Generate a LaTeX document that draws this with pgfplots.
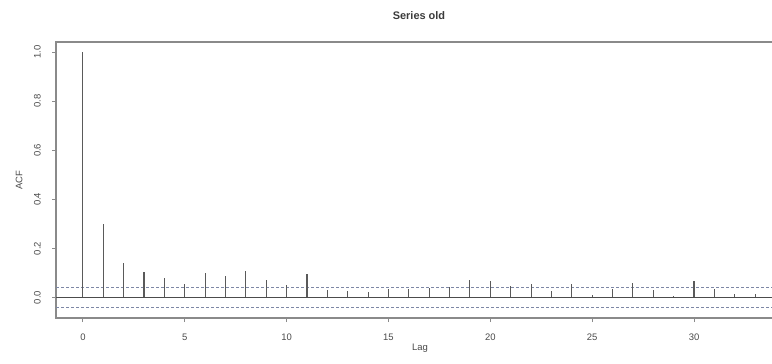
\documentclass[border=0pt]{standalone}
\usepackage{pgfplots}
\pgfplotsset{compat=1.18}
\usepackage{fontspec}
\setmainfont{Liberation Sans}
\definecolor{txt}{HTML}{4A4A4A}
\definecolor{box}{HTML}{8A8A8A}
\definecolor{spk}{HTML}{5A5A5A}
\definecolor{ci}{RGB}{125,135,165}
\begin{document}
\begin{tikzpicture}[x=1bp,y=1bp]
\clip (0,0) rectangle (772,363);
\begin{axis}[
  at={(56bp,45bp)}, anchor=south west,
  scale only axis, width=726bp, height=276bp,
  xmin=-1.32, xmax=34.32, ymin=-0.0836, ymax=1.0417,
  axis line style={box, line width=1.2pt},
  xtick={0,5,...,30}, ytick={0,0.2,...,1.0},
  yticklabel={\pgfmathprintnumber[fixed,fixed zerofill,precision=1]{\tick}},
  /pgf/number format/assume math mode=true,
  tick align=outside, major tick length=4bp,
  tick style={box, line width=0.8pt},
  xtick pos=bottom, ytick pos=left,
  every tick label/.append style={font=\fontsize{9.5}{10}\selectfont, text=txt},
  xticklabel style={inner sep=0pt, anchor=north, yshift=-12bp},
  yticklabel style={xshift=-11bp, rotate=90, anchor=south, inner sep=0pt},
  clip=false,
]
\addplot[ci, line width=0.9pt, dash pattern=on 3bp off 2bp] coordinates {(-1.32,0.042) (34.32,0.042)};
\addplot[ci, line width=0.9pt, dash pattern=on 3bp off 2bp] coordinates {(-1.32,-0.042) (34.32,-0.042)};
\addplot[spk!85!black, line width=0.9pt] coordinates {(-1.32,0) (34.32,0)};
\addplot[ycomb, spk, line width=1.1pt, mark=none] table {
x y
0 1.000
1 0.298
2 0.141
3 0.106
4 0.080
5 0.054
6 0.098
7 0.088
8 0.110
9 0.071
10 0.050
11 0.095
12 0.030
13 0.027
14 0.023
15 0.034
16 0.034
17 0.039
18 0.042
19 0.072
20 0.068
21 0.047
22 0.053
23 0.027
24 0.056
25 0.009
26 0.035
27 0.060
28 0.031
29 0.008
30 0.068
31 0.035
32 0.013
33 0.016
};
\end{axis}
\node[font=\bfseries\fontsize{11}{12}\selectfont, text=txt!80!black] at (419,347.3) {Series old};
\node[font=\fontsize{9.5}{10}\selectfont, text=txt] at (420,15) {Lag};
\node[font=\fontsize{9.5}{10}\selectfont, text=txt, rotate=90] at (19,183) {ACF};
\end{tikzpicture}
\end{document}
